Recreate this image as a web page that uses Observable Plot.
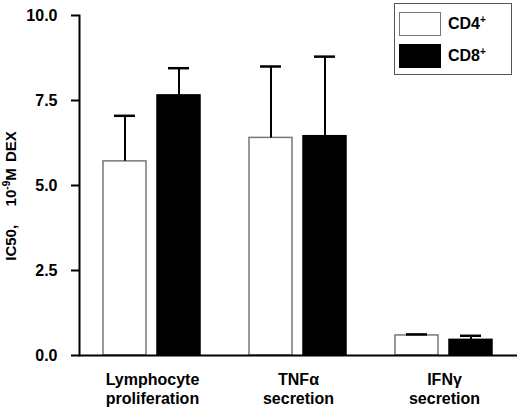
<!DOCTYPE html>
<html>
<head>
<meta charset="utf-8">
<script src="https://cdn.jsdelivr.net/npm/d3@7"></script>
<script src="https://cdn.jsdelivr.net/npm/@observablehq/plot@0.6"></script>
<style>
  body { margin: 0; background: #fff; }
  #wrap { position: relative; width: 520px; height: 409px; font-family: "Liberation Sans", Arial, sans-serif; font-weight: bold; }
  #ylabel {
    position: absolute; left: 10px; top: 196px;
    transform: translate(-50%, -50%) rotate(-90deg);
    white-space: nowrap; font-size: 15px; word-spacing: 2px;
  }
  #ylabel sup { font-size: 10px; }
  #legend {
    position: absolute; left: 394px; top: 3px; width: 116px; height: 70px;
    border: 1px solid #555; background: #fff;
  }
  .row { position: absolute; left: 4px; height: 24px; display: flex; align-items: center; font-size: 16px; }
  .sw { width: 42px; height: 24px; box-sizing: border-box; margin-right: 7px; }
  .row sup { font-size: 10px; }
</style>
</head>
<body>
<div id="wrap"></div>
<script>
// chart values
const groups = ["Lymphocyte\nproliferation", "TNFα\nsecretion", "IFNγ\nsecretion"];
const cells = ["CD4", "CD8"];
const cd4Mean = [5.71, 6.40, 0.59];
const cd4Sem = [1.34, 2.10, 0.03];
const cd8Mean = [7.65, 6.45, 0.46];
const cd8Sem = [0.80, 2.34, 0.12];
const yTicks = [0, 2.5, 5, 7.5, 10];

let rows = [];
groups.forEach((g, i) => {
    rows.push({group: g, cell: "CD4", value: cd4Mean[i], top: cd4Mean[i] + cd4Sem[i]});
    rows.push({group: g, cell: "CD8", value: cd8Mean[i], top: cd8Mean[i] + cd8Sem[i]});
});

let plot = Plot.plot({
    width: 520,
    height: 409,
    marginLeft: 78,
    marginRight: 2,
    marginTop: 15,
    marginBottom: 54,
    style: {fontFamily: "'Liberation Sans', Arial, sans-serif", fontWeight: "bold", fontSize: "16px", color: "#000"},
    fx: {domain: groups, padding: 0},
    x: {domain: cells, paddingInner: 0.2, paddingOuter: 0.446, axis: null},
    y: {domain: [0, 10]},
    color: {domain: cells, range: ["#fff", "#000"]},
    marks: [
        Plot.barY(rows, {fx: "group", x: "cell", y: "value", fill: "cell",
            stroke: d => d.cell == "CD4" ? "#777" : "#000", strokeWidth: 1.5}),
        Plot.ruleX(rows, {fx: "group", x: "cell", y1: "value", y2: "top", stroke: "#000", strokeWidth: 2}),
        Plot.tickY(rows, {fx: "group", x: "cell", y: "top", stroke: "#000", strokeWidth: 2.5, insetLeft: 11, insetRight: 11}),
        Plot.ruleY([0], {stroke: "#000", strokeWidth: 2}),
        Plot.frame({anchor: "left", facetAnchor: "left", stroke: "#000", strokeWidth: 2}),
        Plot.axisY({ticks: yTicks, tickFormat: d3.format(".1f"), tickSize: 8, tickPadding: 14,
            strokeWidth: 2, label: null, fontSize: 16}),
        Plot.axisFx({anchor: "bottom", tickSize: 0, tickPadding: 16, label: null, fontSize: 16, lineHeight: 1.2})
    ]
});

let wrap = document.getElementById("wrap");
wrap.append(plot);

let ylab = document.createElement("div");
ylab.id = "ylabel";
ylab.innerHTML = "IC50,&nbsp;&nbsp; 10<sup>-9</sup>M DEX";
wrap.append(ylab);

// legend sits inside the plot area, top right
let legend = document.createElement("div");
legend.id = "legend";
legend.innerHTML =
    '<div class="row" style="top:8px"><div class="sw" style="background:#fff;border:1.5px solid #777"></div><span>CD4<sup>+</sup></span></div>' +
    '<div class="row" style="top:40px"><div class="sw" style="background:#000"></div><span>CD8<sup>+</sup></span></div>';
wrap.append(legend);
</script>
</body>
</html>
